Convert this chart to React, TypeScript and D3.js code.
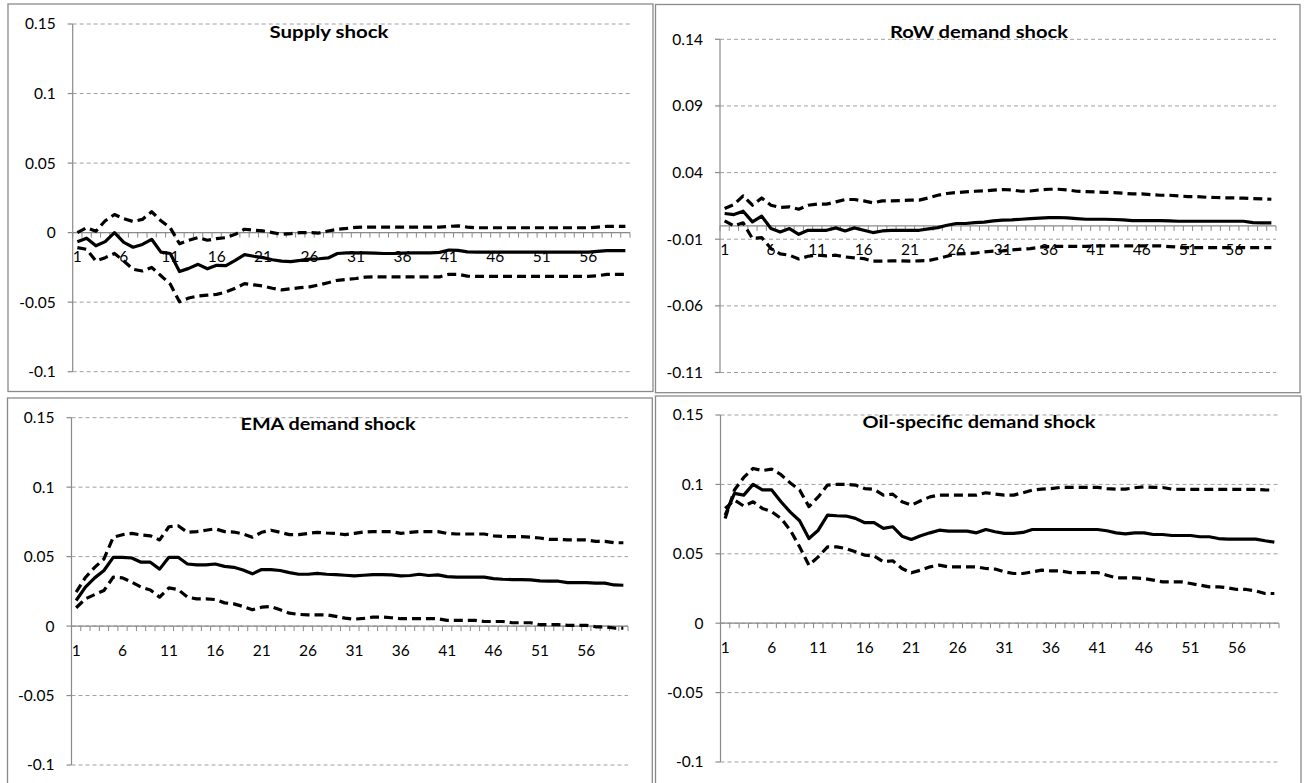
import React from "react";
import * as d3 from "d3";

// ---------- DATA ----------
const periods: number[] = d3.range(1, 61);
const xTickLabels = ["1", "6", "11", "16", "21", "26", "31", "36", "41", "46", "51", "56"];

const titles = ["Supply shock", "RoW demand shock", "EMA demand shock", "Oil-specific demand shock"];

const yTicksStd = [-0.1, -0.05, 0, 0.05, 0.1, 0.15];
const yTickLabelsStd = ["-0.1", "-0.05", "0", "0.05", "0.1", "0.15"];
const yTicksRow = [-0.11, -0.06, -0.01, 0.04, 0.09, 0.14];
const yTickLabelsRow = ["-0.11", "-0.06", "-0.01", "0.04", "0.09", "0.14"];

const supplyMid = [
  -0.0065, -0.004, -0.0095, -0.0065, 0.0, -0.007, -0.0105, -0.0085, -0.0048, -0.014,
  -0.015, -0.028, -0.0257, -0.0228, -0.026, -0.0235, -0.0238, -0.02, -0.0158, -0.017,
  -0.018, -0.0195, -0.0205, -0.0208, -0.02, -0.019, -0.0188, -0.0182, -0.015, -0.0146,
  -0.0145, -0.0145, -0.0148, -0.015, -0.015, -0.0148, -0.0145, -0.0145, -0.0145, -0.0142,
  -0.0125, -0.0128, -0.0138, -0.014, -0.014, -0.014, -0.014, -0.014, -0.014, -0.014,
  -0.014, -0.014, -0.014, -0.014, -0.014, -0.014, -0.0135, -0.013, -0.013, -0.013,
];
const supplyUpper = [
  0.0, 0.0035, 0.001, 0.0085, 0.013, 0.01, 0.008, 0.0095, 0.015, 0.0085,
  0.0035, -0.008, -0.0055, -0.0036, -0.0055, -0.0043, -0.0036, -0.0012, 0.0024, 0.0017,
  0.0012, 0.0, -0.0012, -0.0007, 0.0, 0.0, -0.0003, 0.0012, 0.0024, 0.003,
  0.0038, 0.004, 0.004, 0.004, 0.004, 0.004, 0.004, 0.004, 0.004, 0.004,
  0.0045, 0.0048, 0.004, 0.0035, 0.0035, 0.0035, 0.0035, 0.0035, 0.0035, 0.0035,
  0.0035, 0.0035, 0.0035, 0.0035, 0.0035, 0.0035, 0.004, 0.0045, 0.0045, 0.0045,
];
const supplyLower = [
  -0.0108, -0.012, -0.0204, -0.018, -0.015, -0.0204, -0.0264, -0.0276, -0.025, -0.031,
  -0.037, -0.0497, -0.047, -0.0456, -0.045, -0.0444, -0.0427, -0.04, -0.0367, -0.0376,
  -0.0384, -0.04, -0.0412, -0.0403, -0.0396, -0.039, -0.0376, -0.036, -0.0343, -0.0336,
  -0.033, -0.032, -0.0318, -0.0318, -0.0318, -0.0318, -0.0318, -0.0318, -0.0318, -0.0318,
  -0.03, -0.03, -0.0313, -0.0315, -0.0315, -0.0315, -0.0315, -0.0315, -0.0315, -0.0315,
  -0.0315, -0.0315, -0.0315, -0.0315, -0.0315, -0.0315, -0.031, -0.03, -0.03, -0.03,
];

const rowMid = [
  0.0093, 0.0085, 0.011, 0.003, 0.0073, -0.002, -0.0045, -0.002, -0.0063, -0.0033,
  -0.0033, -0.0033, -0.0015, -0.0038, -0.0015, -0.0033, -0.005, -0.0038, -0.0033, -0.0033,
  -0.0033, -0.0033, -0.0023, -0.0013, 0.0005, 0.0018, 0.0018, 0.0025, 0.0028, 0.0038,
  0.0043, 0.0045, 0.005, 0.0055, 0.0058, 0.0062, 0.0063, 0.006, 0.0055, 0.005,
  0.005, 0.005, 0.0048, 0.0045, 0.004, 0.004, 0.004, 0.004, 0.0037, 0.0035,
  0.0035, 0.0035, 0.0035, 0.0035, 0.0035, 0.0035, 0.0035, 0.0025, 0.0023, 0.0023,
];
const rowUpper = [
  0.013, 0.016, 0.0225, 0.0155, 0.021, 0.0155, 0.0138, 0.0143, 0.0125, 0.0155,
  0.0163, 0.0163, 0.018, 0.0198, 0.0198, 0.0188, 0.0173, 0.0188, 0.0188, 0.019,
  0.0193, 0.0193, 0.021, 0.023, 0.0243, 0.025, 0.0255, 0.026, 0.0263, 0.0268,
  0.0273, 0.027, 0.026, 0.0262, 0.027, 0.0275, 0.0275, 0.027, 0.026, 0.0257,
  0.0255, 0.0252, 0.025, 0.0245, 0.024, 0.024, 0.0235, 0.023, 0.023, 0.0225,
  0.022, 0.022, 0.0215, 0.0213, 0.021, 0.021, 0.0208, 0.0205, 0.0203, 0.02,
];
const rowLower = [
  0.0038, 0.0, 0.0023, -0.0095, -0.0088, -0.017, -0.021, -0.022, -0.0248, -0.0228,
  -0.022, -0.0225, -0.022, -0.0233, -0.024, -0.0245, -0.0265, -0.0265, -0.0262, -0.0262,
  -0.0265, -0.0262, -0.026, -0.0245, -0.0228, -0.021, -0.0208, -0.0205, -0.0195, -0.019,
  -0.0188, -0.018, -0.0175, -0.017, -0.016, -0.0155, -0.0153, -0.0153, -0.0153, -0.0153,
  -0.015, -0.015, -0.015, -0.015, -0.015, -0.015, -0.015, -0.015, -0.0155, -0.016,
  -0.0163, -0.0163, -0.0163, -0.0163, -0.0163, -0.0163, -0.0163, -0.0163, -0.0163, -0.0163,
];

const emaMid = [
  0.0184, 0.028, 0.0347, 0.04, 0.0495, 0.0495, 0.049, 0.046, 0.046, 0.041,
  0.0495, 0.0495, 0.0447, 0.044, 0.044, 0.0447, 0.043, 0.0423, 0.0404, 0.0376,
  0.0407, 0.0407, 0.04, 0.0385, 0.0373, 0.0373, 0.038, 0.0373, 0.0371, 0.0366,
  0.0361, 0.0366, 0.0371, 0.0371, 0.0369, 0.0361, 0.0364, 0.0373, 0.0364, 0.0369,
  0.0356, 0.0352, 0.0352, 0.0352, 0.0352, 0.0342, 0.0337, 0.0335, 0.0335, 0.0333,
  0.0325, 0.0323, 0.0323, 0.0313, 0.0313, 0.0313, 0.0309, 0.0309, 0.0296, 0.0294,
];
const emaUpper = [
  0.0244, 0.035, 0.0423, 0.0483, 0.064, 0.0658, 0.0667, 0.0656, 0.065, 0.062,
  0.0715, 0.0722, 0.0675, 0.068, 0.069, 0.07, 0.068, 0.0677, 0.0663, 0.064,
  0.0675, 0.069, 0.0675, 0.0658, 0.0658, 0.0667, 0.0675, 0.067, 0.0667, 0.0658,
  0.0667, 0.0677, 0.068, 0.068, 0.068, 0.0667, 0.0675, 0.068, 0.068, 0.068,
  0.0667, 0.0663, 0.0663, 0.0663, 0.0663, 0.065, 0.0645, 0.0644, 0.0644, 0.064,
  0.0634, 0.0624, 0.0624, 0.062, 0.062, 0.062, 0.061, 0.061, 0.06, 0.06,
];
const emaLower = [
  0.0132, 0.0196, 0.0227, 0.0256, 0.0352, 0.0347, 0.0316, 0.028, 0.026, 0.0208,
  0.0275, 0.0263, 0.0208, 0.0196, 0.0196, 0.0191, 0.0167, 0.016, 0.0141, 0.0117,
  0.0136, 0.0141, 0.0117, 0.0093, 0.0084, 0.0081, 0.0081, 0.0081, 0.007, 0.0057,
  0.005, 0.0055, 0.0065, 0.0065, 0.006, 0.0053, 0.0053, 0.0053, 0.0053, 0.0053,
  0.0041, 0.0041, 0.0041, 0.0041, 0.0033, 0.0033, 0.0033, 0.0024, 0.0024, 0.0024,
  0.001, 0.001, 0.001, 0.0005, 0.0005, 0.0005, -0.0005, -0.0005, -0.0014, -0.0014,
];

const oilMid = [
  0.0779, 0.0935, 0.0923, 0.1, 0.096, 0.096, 0.0875, 0.08, 0.0738, 0.061,
  0.067, 0.0779, 0.0774, 0.0772, 0.0755, 0.0724, 0.0724, 0.0683, 0.0695, 0.0627,
  0.0603, 0.063, 0.0651, 0.067, 0.0663, 0.0663, 0.0663, 0.0651, 0.0675, 0.0659,
  0.0647, 0.0647, 0.0654, 0.0675, 0.0675, 0.0675, 0.0675, 0.0675, 0.0675, 0.0675,
  0.0675, 0.0666, 0.0651, 0.0644, 0.0651, 0.0651, 0.0639, 0.0639, 0.0632, 0.0632,
  0.0632, 0.0623, 0.0623, 0.061, 0.0606, 0.0606, 0.0606, 0.0606, 0.0594, 0.0584,
];
const oilUpper = [
  0.0755, 0.096, 0.105, 0.1115, 0.11, 0.111, 0.107, 0.101, 0.096, 0.084,
  0.091, 0.0995, 0.1, 0.1, 0.0995, 0.097, 0.0964, 0.0923, 0.093, 0.0875,
  0.085, 0.0882, 0.091, 0.0923, 0.0923, 0.0923, 0.0923, 0.0923, 0.094, 0.093,
  0.0923, 0.0923, 0.094, 0.0959, 0.0966, 0.097, 0.0978, 0.0978, 0.0978, 0.0978,
  0.0978, 0.097, 0.0966, 0.0966, 0.0976, 0.0983, 0.0978, 0.0978, 0.0966, 0.0964,
  0.0964, 0.0964, 0.0964, 0.0964, 0.0964, 0.0964, 0.0964, 0.0964, 0.096, 0.0959,
];
const oilLower = [
  0.0827, 0.0887, 0.0844, 0.0875, 0.0827, 0.0803, 0.0755, 0.067, 0.055, 0.0418,
  0.0478, 0.055, 0.055, 0.0538, 0.0514, 0.049, 0.0485, 0.0442, 0.045, 0.0394,
  0.0363, 0.0382, 0.0406, 0.0418, 0.0406, 0.0406, 0.0406, 0.0406, 0.0394, 0.039,
  0.037, 0.0358, 0.0358, 0.037, 0.0382, 0.0377, 0.0377, 0.0365, 0.0365, 0.0365,
  0.0365, 0.0346, 0.0327, 0.0327, 0.0327, 0.0322, 0.031, 0.0298, 0.0298, 0.0298,
  0.0286, 0.0274, 0.0262, 0.0262, 0.0255, 0.0243, 0.0243, 0.0233, 0.0214, 0.0214,
];

// ---------- LAYOUT ----------
type PanelLayout = {
  frame: [number, number, number, number]; // x0,y0,x1,y1
  plotX: [number, number];
  plotY: [number, number]; // pixel for top tick, bottom tick
  titleX: number;
  titleY: number;
  titleW: number;
};

const layouts: PanelLayout[] = [
  { frame: [8, 4, 653, 391.5], plotX: [72.7, 630], plotY: [24, 371.7], titleX: 329, titleY: 32, titleW: 119 },
  { frame: [655.5, 4.5, 1300, 392.7], plotX: [720, 1276], plotY: [39.3, 372.5], titleX: 979, titleY: 32, titleW: 178 },
  { frame: [7.5, 398, 652.3, 790], plotX: [71.5, 628], plotY: [417.7, 765], titleX: 328, titleY: 424.3, titleW: 175 },
  { frame: [655.5, 396, 1301, 790], plotX: [720.5, 1279], plotY: [415, 762], titleX: 979, titleY: 422.3, titleW: 233 },
];

const panels = [
  { title: titles[0], ticks: yTicksStd, tickLabels: yTickLabelsStd, mid: supplyMid, upper: supplyUpper, lower: supplyLower },
  { title: titles[1], ticks: yTicksRow, tickLabels: yTickLabelsRow, mid: rowMid, upper: rowUpper, lower: rowLower },
  { title: titles[2], ticks: yTicksStd, tickLabels: yTickLabelsStd, mid: emaMid, upper: emaUpper, lower: emaLower },
  { title: titles[3], ticks: yTicksStd, tickLabels: yTickLabelsStd, mid: oilMid, upper: oilUpper, lower: oilLower },
];

const FONT = "Lato, 'Open Sans', sans-serif";
const GRAY = "#8a8a8a";

function Panel({ p, L }: { p: (typeof panels)[number]; L: PanelLayout }) {
  const tMin = p.ticks[0];
  const tMax = p.ticks[p.ticks.length - 1];
  const y = d3.scaleLinear().domain([tMin, tMax]).range([L.plotY[1], L.plotY[0]]);
  const band = d3
    .scaleBand<number>()
    .domain(periods)
    .range([L.plotX[0], L.plotX[1]])
    .paddingInner(0)
    .paddingOuter(0);
  const cx = (i: number) => (band(periods[i]) as number) + band.bandwidth() / 2;
  const line = d3
    .line<number>()
    .x((_, i) => cx(i))
    .y((v) => y(v));
  const y0 = y(0);
  const boundaries = d3.range(0, periods.length + 1).map((k) => L.plotX[0] + k * band.bandwidth());
  const [fx0, fy0, fx1, fy1] = L.frame;

  return (
    <g>
      <rect x={fx0} y={fy0} width={fx1 - fx0} height={fy1 - fy0} fill="white" stroke={GRAY} strokeWidth={1.3} />
      {/* gridlines */}
      {p.ticks.map((t) => (
        <line
          key={"g" + t}
          x1={L.plotX[0]}
          x2={L.plotX[1]}
          y1={y(t)}
          y2={y(t)}
          stroke="#a0a0a0"
          strokeWidth={1}
          strokeDasharray="4 3"
        />
      ))}
      {/* y axis */}
      <line x1={L.plotX[0]} x2={L.plotX[0]} y1={L.plotY[0]} y2={L.plotY[1]} stroke={GRAY} strokeWidth={1.2} />
      {p.ticks.map((t, k) => (
        <g key={"yt" + t}>
          <line x1={L.plotX[0] - 5} x2={L.plotX[0]} y1={y(t)} y2={y(t)} stroke={GRAY} strokeWidth={1.2} />
          <text
            x={L.plotX[0] - 17}
            y={y(t)}
            dy="0.35em"
            textAnchor="end"
            fontFamily={FONT}
            fontSize={15.5}
            fill="#000"
          >
            {p.tickLabels[k]}
          </text>
        </g>
      ))}
      {/* x axis at zero */}
      <line x1={L.plotX[0]} x2={L.plotX[1]} y1={y0} y2={y0} stroke={GRAY} strokeWidth={1.2} />
      {boundaries.map((bx, k) => (
        <line key={"xt" + k} x1={bx} x2={bx} y1={y0} y2={y0 + 5} stroke={GRAY} strokeWidth={1} />
      ))}
      {xTickLabels.map((lab) => {
        const idx = periods.indexOf(+lab);
        return (
          <text
            key={"xl" + lab}
            x={cx(idx)}
            y={y0 + 24}
            dy="0.35em"
            textAnchor="middle"
            fontFamily={FONT}
            fontSize={15.5}
            fill="#000"
          >
            {lab}
          </text>
        );
      })}
      {/* series */}
      <path d={line(p.upper) || ""} fill="none" stroke="#000" strokeWidth={3.2} strokeDasharray="9 5" strokeLinejoin="round" />
      <path d={line(p.lower) || ""} fill="none" stroke="#000" strokeWidth={3.2} strokeDasharray="9 5" strokeLinejoin="round" />
      <path d={line(p.mid) || ""} fill="none" stroke="#000" strokeWidth={3.2} strokeLinejoin="round" />
      {/* title */}
      <text
        x={L.titleX}
        y={L.titleY}
        dy="0.35em"
        textAnchor="middle"
        fontFamily={FONT}
        fontWeight="bold"
        fontSize={17.5}
        textLength={L.titleW}
        lengthAdjust="spacingAndGlyphs"
        fill="#000"
      >
        {p.title}
      </text>
    </g>
  );
}

export default function App() {
  return (
    <svg
      width={1307}
      height={783}
      viewBox="0 0 1307 783"
      style={{ position: "absolute", left: 0, top: 0, background: "white" }}
    >
      <rect x={0} y={0} width={1307} height={783} fill="white" />
      {panels.map((p, i) => (
        <Panel key={p.title} p={p} L={layouts[i]} />
      ))}
    </svg>
  );
}
